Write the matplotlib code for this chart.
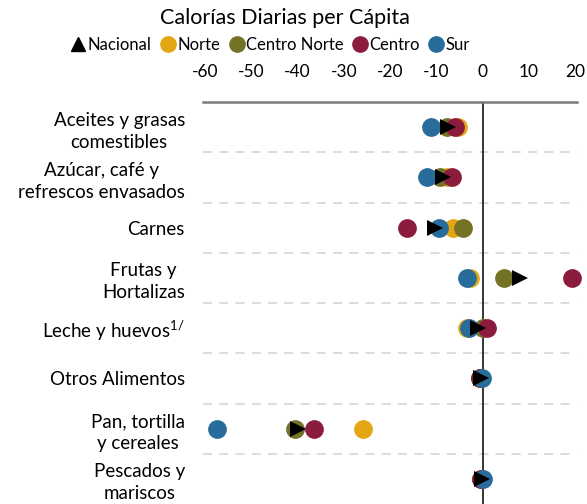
import matplotlib
matplotlib.use("Agg")
import matplotlib.pyplot as plt
from matplotlib.lines import Line2D

plt.rcParams['font.family'] = ['Lato', 'DejaVu Sans']
plt.rcParams['mathtext.fontset'] = 'custom'
plt.rcParams['mathtext.rm'] = 'Lato'
plt.rcParams['mathtext.it'] = 'Lato'

title = "Calorías Diarias per Cápita"
categories = ["Aceites y grasas\ncomestibles", "Azúcar, café y\nrefrescos envasados",
              "Carnes", "Frutas y\nHortalizas", "Leche y huevos$^{1/}$",
              "Otros Alimentos", "Pan, tortilla\ny cereales", "Pescados y\nmariscos"]
xticks = [-60, -50, -40, -30, -20, -10, 0, 10, 20]

norte = [-5.3, -7.7, -6.3, -2.7, -3.3, -0.5, -25.8, -0.4]
centro_norte = [-7.7, -9.2, -4.3, 4.6, 0.0, -0.5, -40.5, -0.4]
centro = [-5.9, -6.5, -16.3, 19.3, 1.0, -0.6, -36.4, -0.3]
sur = [-11.2, -12.1, -9.5, -3.3, -2.9, -0.2, -57.3, 0.0]
nacional = [-7.5, -8.5, -10.3, 8.1, -0.9, -0.4, -39.9, -0.2]

series = [("Norte", norte, "#E3A614"), ("Centro Norte", centro_norte, "#747227"),
          ("Centro", centro, "#8C1C3E"), ("Sur", sur, "#286C9B")]

fig = plt.figure(figsize=(5.87, 5.04), dpi=100)
ax = fig.add_axes([203/587, 0.0, 374/587, 1 - 102/504])

ypos = list(range(len(categories)))
for i, (name, vals, col) in enumerate(series):
    ax.plot(vals, ypos, 'o', color=col, markersize=13.5, markeredgewidth=0,
            zorder=3 + i, clip_on=False)
ax.plot(nacional, ypos, '>', color='black', markersize=11, markeredgewidth=0,
        zorder=10, clip_on=False)

ax.set_xlim(-60.4, 20.4)
ax.set_ylim(len(categories) - 0.5, -0.5)
ax.axvline(0, color='black', lw=1.1, zorder=2)
for b in range(1, len(categories)):
    ax.axhline(b - 0.5, color='#d9d9d9', lw=1.3, ls=(0, (5, 4)), zorder=1)

for s in ['left', 'right', 'bottom']:
    ax.spines[s].set_visible(False)
ax.spines['top'].set_color('#7a7a7a')
ax.spines['top'].set_linewidth(1.8)

ax.xaxis.tick_top()
ax.set_xticks(xticks)
ax.set_xticklabels([str(t) for t in xticks], fontsize=12.5)
ax.set_yticks(ypos)
ax.set_yticklabels(categories, fontsize=13.5, multialignment='center',
                   linespacing=1.35)
ax.tick_params(axis='both', length=0)
ax.tick_params(axis='x', pad=16)
ax.tick_params(axis='y', pad=13)

fig.text(285/587, 1 - 18/504, title, ha='center', va='center', fontsize=15.5)

handles = [Line2D([], [], marker='^', color='black', ls='none', markersize=10)]
labels = ["Nacional"]
for name, vals, col in series:
    handles.append(Line2D([], [], marker='o', color=col, ls='none', markersize=11))
    labels.append(name)
fig.legend(handles, labels, loc='center', bbox_to_anchor=(270/587, 1 - 45/504),
           ncol=5, frameon=False, fontsize=12, handletextpad=0.05,
           columnspacing=0.5, handlelength=1.0, borderpad=0)

fig.savefig("out.png", dpi=100)
